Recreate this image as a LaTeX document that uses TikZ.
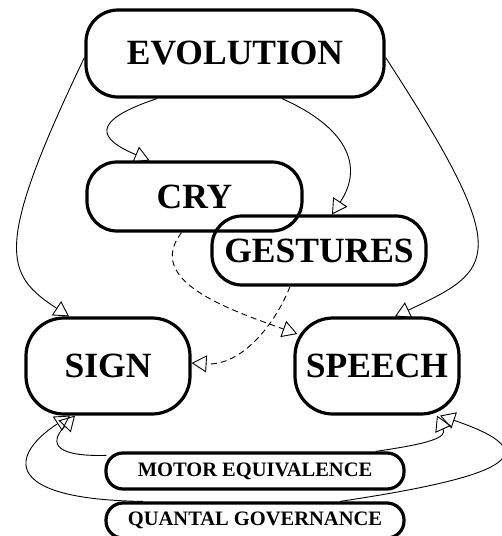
\documentclass[tikz,border=0pt]{standalone}
\usepackage{fontspec}
\setmainfont{Liberation Serif}
\usetikzlibrary{arrows.meta}

\begin{document}
\begin{tikzpicture}[x=1pt,y=-1pt]
        \tikzstyle{every node}=[font=\bfseries\fontsize{35.5}{40}\selectfont]
        \tikzstyle{stage}=[draw, line width=3.2pt, inner sep=0pt, rounded corners=32pt]
        \tikzstyle{principle}=[stage, rounded corners=17pt, font=\bfseries\fontsize{20.5}{24}\selectfont]
        \tikzstyle{link}=[line width=0.9pt, -{Triangle[open,length=15pt,width=17pt]}]
        \tikzstyle{hint}=[link, dash pattern=on 6pt off 4pt]
        \useasboundingbox (0,0) rectangle (502,536);
        \node[stage, minimum width=298pt, minimum height=87pt] (evolution) at (235,53.5) {EVOLUTION};
        \node[stage, minimum width=215pt, minimum height=69pt, rounded corners=30pt] (cry) at (194.5,196.5) {CRY};
        \node[stage, minimum width=214pt, minimum height=69pt, rounded corners=30pt] (gestures) at (319,250.5) {GESTURES};
        \node[stage, minimum width=164pt, minimum height=96pt, rounded corners=38pt] (sign) at (108,366) {SIGN};
        \node[stage, minimum width=164pt, minimum height=96pt, rounded corners=38pt] (speech) at (377,366) {SPEECH};
        \node[principle, minimum width=298pt, minimum height=36pt] (motor) at (255,471) {MOTOR EQUIVALENCE};
        \node[principle, minimum width=298pt, minimum height=35pt] (quantal) at (255,520.5) {QUANTAL GOVERNANCE};
        \draw[link] ([xshift=-78pt]evolution.south) .. controls +(-69,23) and +(-50,-21) .. ([xshift=-45pt]cry.north);
        \draw[link] ([xshift=47pt]evolution.south) .. controls +(63,28) and +(33,-49.5) .. ([xshift=13pt]gestures.north);
        \draw[link] ([yshift=-4pt]evolution.west) .. controls +(-92,192) and +(-64,-42) .. ([xshift=-39pt]sign.north);
        \draw[link] ([yshift=-4pt]evolution.east) .. controls +(130,200) and +(100,-47) .. ([xshift=18pt]speech.north);
        \draw[hint] ([xshift=-13pt]cry.south) .. controls +(-37,48) and +(-70,-25) .. ([xshift=4pt,yshift=32pt]speech.west);
        \draw[hint] ([xshift=-29pt]gestures.south) .. controls +(-15,38) and +(50,3) .. ([yshift=3pt]sign.east);
        \draw[link] ([xshift=2pt,yshift=-4pt]motor.north west) .. controls +(-58.5,1.5) and +(-23,24) .. ([xshift=-33pt]sign.south);
        \draw[link] ([xshift=-30pt]motor.north east) .. controls +(55,-8) and +(10,22) .. ([xshift=60pt]speech.south);
        \draw[link] ([xshift=-112pt]quantal.north) .. controls +(-143,-2) and +(-60,39) .. ([xshift=-38pt]sign.south);
        \draw[link] ([xshift=85pt]quantal.north) .. controls +(160,-24) and +(115,39) .. ([xshift=63pt]speech.south);
\end{tikzpicture}
\end{document}
